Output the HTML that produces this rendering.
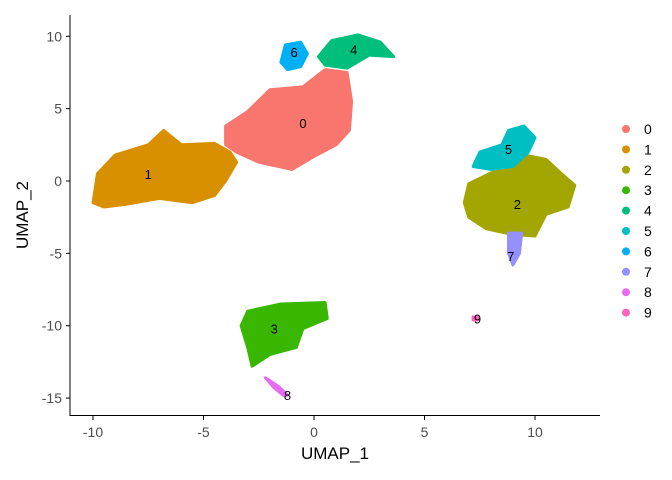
<!DOCTYPE html>
<html><head><meta charset="utf-8"><style>
body{margin:0;background:#fff}
svg{display:block;font-family:"Liberation Sans",sans-serif}
</style></head><body>
<svg id="c" width="672" height="480"></svg>
<script>
const clusterIds=["0","1","2","3","4","5","6","7","8","9"];
const clusterColors=["#F8766D","#D89000","#A3A500","#39B600","#00BF7D","#00BFC4","#00B0F6","#9590FF","#E76BF3","#FF62BC"];
const outline0=[[-4,2.5],[-4,3.8],[-3,4.8],[-2,6.3],[-0.5,6.5],[0.5,7.7],[1.5,7.5],[1.7,5.5],[1.6,3.5],[1,2.5],[0,1.7],[-1,0.8],[-2.5,1.3],[-3.5,2]];
const outline1=[[-10,-1.5],[-9.8,0.5],[-9,1.8],[-7.5,2.5],[-6.8,3.5],[-6,2.5],[-4.5,2.6],[-3.8,2],[-3.5,1.3],[-4,0],[-4.5,-1],[-5.5,-1.5],[-7,-1.2],[-8.5,-1.6],[-9.5,-1.8]];
const outline2=[[6.8,-1.5],[7,-0.2],[8.2,0.7],[9.5,1.8],[10.5,1.5],[11.2,0.5],[11.8,-0.3],[11.5,-1.8],[10.5,-2.3],[10,-3.8],[9,-3.7],[7.8,-3.3],[7,-2.5]];
const outline3=[[-3.3,-10],[-3,-9],[-1.5,-8.5],[0.5,-8.4],[0.6,-9.5],[-0.5,-10.2],[-0.8,-11.5],[-2,-12],[-2.8,-12.8],[-3,-11.5]];
const outline4=[[0.2,8.6],[0.8,9.7],[2,10.1],[3,9.6],[3.6,8.6],[2.5,8.7],[1.5,7.8],[0.5,8]];
const outline5=[[7.2,1],[7.5,2],[8.5,2.5],[8.8,3.5],[9.5,3.8],[10,3],[9.7,2],[9,1],[8,0.8]];
const outline6=[[-1.5,8.2],[-1.3,9.4],[-0.6,9.6],[-0.3,8.8],[-0.6,7.9],[-1.2,7.7]];
const outline7=[[8.8,-3.6],[9.4,-3.6],[9.3,-5],[9,-5.8],[8.8,-5]];
const outline8=[[-2.2,-13.6],[-1.6,-14.2],[-1.2,-14.8],[-1.4,-14.8],[-1.8,-14.3]];
const outline9=[[7.2,-9.4],[7.4,-9.4],[7.4,-9.6],[7.2,-9.6]];
const outlines=[outline0,outline1,outline2,outline3,outline4,outline5,outline6,outline7,outline8,outline9];
const labelX=[-0.5,-7.5,9.2,-1.8,1.8,8.8,-0.9,8.9,-1.2,7.4];
const labelY=[4,0.5,-1.6,-10.2,9.1,2.2,8.9,-5.2,-14.8,-9.5];
const xTicks=[-10,-5,0,5,10];
const yTicks=[10,5,0,-5,-10,-15];
const NS="http://www.w3.org/2000/svg";
const svg=document.getElementById('c');
const X=v=>314+22.1*v, Y=v=>181-14.47*v;
function mk(t,a,p){const e=document.createElementNS(NS,t);for(const k in a)e.setAttribute(k,a[k]);(p||svg).appendChild(e);return e;}
outlines.forEach((o,i)=>{
 const d='M'+o.map(p=>X(p[0]).toFixed(1)+','+Y(p[1]).toFixed(1)).join('L')+'Z';
 const p=mk('path',{d:d,fill:clusterColors[i],stroke:clusterColors[i],'stroke-width':3,'stroke-linejoin':'round'});
 
 
});
clusterIds.forEach((c,i)=>{
 const t=mk('text',{x:X(labelX[i]),y:Y(labelY[i])+5,'text-anchor':'middle','font-size':13,fill:'#000'});
 t.textContent=c;
 
 
});
const ax=mk('g',{stroke:'#000','stroke-width':1});


mk('line',{x1:70,y1:15,x2:70,y2:416},ax);
mk('line',{x1:69.5,y1:415.5,x2:600,y2:415.5},ax);
xTicks.forEach(v=>{
 mk('line',{x1:X(v),x2:X(v),y1:416,y2:420},ax);
 const t=mk('text',{x:X(v),y:437,'text-anchor':'middle','font-size':14,fill:'#4d4d4d'});
 t.textContent=v;
 
 
});
yTicks.forEach(v=>{
 mk('line',{x1:66,x2:70,y1:Y(v),y2:Y(v)},ax);
 const t=mk('text',{x:62,y:Y(v)+5,'text-anchor':'end','font-size':14,fill:'#4d4d4d'});
 t.textContent=v;
 
 
});
const xt=mk('text',{x:335,y:459,'text-anchor':'middle','font-size':17});xt.textContent='UMAP_1';


const yt=mk('text',{x:28,y:215,'text-anchor':'middle','font-size':17,transform:'rotate(-90 28 215)'});yt.textContent='UMAP_2';


clusterIds.forEach((c,i)=>{
 const g=mk('g',{});
 
 
 const yy=129+i*20.4;
 mk('circle',{cx:626,cy:yy,r:4,fill:clusterColors[i]},g);
 const t=mk('text',{x:644,y:yy+5,'font-size':14,fill:'#000'},g);t.textContent=c;
});
</script>
</body></html>
